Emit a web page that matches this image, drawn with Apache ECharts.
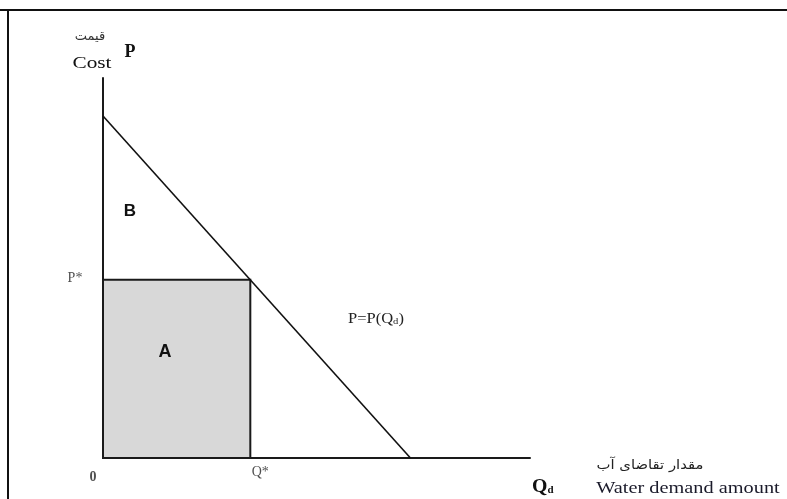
<!DOCTYPE html>
<html>
<head>
<meta charset="utf-8">
<script src="https://cdn.jsdelivr.net/npm/echarts@6/dist/echarts.min.js"></script>
<style>
  html, body { margin: 0; padding: 0; background: #fff; }
  #chart { width: 787px; height: 499px; }
</style>
</head>
<body>
<div id="chart"></div>
<script>
// demand curve end points (quantity, price)
const demandQ = [0, 72]
const demandP = [90, 0]
// equilibrium point Q*, P*
const equilibrium = [34.5, 46.9]
// axis point labels
const pointNames = ['0', 'Q*', 'P*']
const axisMax = [100, 100]

const chart = echarts.init(document.getElementById('chart'))
const serif = '"Liberation Serif", "DejaVu Serif", serif'
const sans = '"Liberation Sans", Arial, sans-serif'
const arabic = '"DejaVu Sans", "Noto Sans", sans-serif'

const labelPoints = [
  { value: [0, 0], label: { formatter: pointNames[0], offset: [-10, 19], fontWeight: 'bold', fontSize: 14 } },
  { value: [equilibrium[0], 0], label: { formatter: pointNames[1], offset: [10, 14] } },
  { value: [0, equilibrium[1]], label: { formatter: pointNames[2], offset: [-28, -1] } }
]

const options = {
  animation: false,
  grid: { left: 103, top: 78, width: 427, height: 380 },
  xAxis: {
    type: 'value',
    min: 0,
    max: axisMax[0],
    axisLine: { lineStyle: { color: '#1a1a1a', width: 2 } },
    axisTick: { show: false },
    axisLabel: { show: false },
    splitLine: { show: false }
  },
  yAxis: {
    type: 'value',
    min: 0,
    max: axisMax[1],
    axisLine: { show: true, lineStyle: { color: '#1a1a1a', width: 2 } },
    axisTick: { show: false },
    axisLabel: { show: false },
    splitLine: { show: false }
  },
  series: [
    {
      name: 'demand',
      type: 'line',
      symbol: 'none',
      lineStyle: { color: '#111', width: 1.6 },
      data: demandQ.map((q, i) => [q, demandP[i]]),
      markArea: {
        silent: true,
        itemStyle: { color: '#d8d8d8', borderColor: '#1a1a1a', borderWidth: 2 },
        data: [[{ coord: [0, 0] }, { coord: equilibrium }]]
      },
      z: 3
    },
    {
      name: 'labels',
      type: 'scatter',
      symbolSize: 0,
      label: {
        show: true,
        position: 'inside',
        color: '#222',
        fontFamily: serif,
        fontSize: 14
      },
      data: labelPoints
    }
  ],
  graphic: [
    // frame
    { type: 'line', shape: { x1: 0, y1: 10, x2: 787, y2: 10 }, style: { stroke: '#111', lineWidth: 2 } },
    { type: 'line', shape: { x1: 8, y1: 10, x2: 8, y2: 499 }, style: { stroke: '#111', lineWidth: 2 } },
    // region labels
    { type: 'text', z: 100, x: 130, y: 211, style: { text: 'B', fontSize: 17, fontWeight: 'bold', fontFamily: sans, fill: '#111', align: 'center', verticalAlign: 'middle' } },
    { type: 'text', z: 100, x: 165, y: 352, style: { text: 'A', fontSize: 18, fontWeight: 'bold', fontFamily: sans, fill: '#111', align: 'center', verticalAlign: 'middle' } },
    {
      type: 'text', z: 100, x: 348, y: 319, scaleX: 1.18,
      style: {
        text: '{a|P=P(Q}{s|d}{a|)}',
        verticalAlign: 'middle',
        rich: {
          a: { fontFamily: serif, fontSize: 14, fill: '#222' },
          s: { fontFamily: serif, fontSize: 9, fill: '#222', padding: [6, 0, 0, 0] }
        }
      }
    },
    // y axis title
    { type: 'text', x: 90, y: 37, style: { text: 'قیمت', fontFamily: arabic, fontSize: 13, fill: '#333', align: 'center', verticalAlign: 'middle' } },
    { type: 'text', x: 92, y: 64, scaleX: 1.25, style: { text: 'Cost', fontFamily: serif, fontSize: 17, fill: '#111', align: 'center', verticalAlign: 'middle' } },
    { type: 'text', x: 130, y: 52, style: { text: 'P', fontFamily: serif, fontSize: 18, fontWeight: 'bold', fill: '#111', align: 'center', verticalAlign: 'middle' } },
    // x axis title
    {
      type: 'text', x: 532, y: 487, scaleX: 1.1,
      style: {
        text: '{a|Q}{s|d}',
        verticalAlign: 'middle',
        rich: {
          a: { fontFamily: serif, fontSize: 18, fontWeight: 'bold', fill: '#111' },
          s: { fontFamily: serif, fontSize: 10, fontWeight: 'bold', fill: '#111', padding: [7, 0, 0, 0] }
        }
      }
    },
    { type: 'text', x: 650, y: 466, scaleX: 1.14, style: { text: 'مقدار تقاضای آب', fontFamily: arabic, fontSize: 13, fill: '#222', align: 'center', verticalAlign: 'middle' } },
    { type: 'text', x: 688, y: 489, scaleX: 1.27, style: { text: 'Water demand amount', fontFamily: serif, fontSize: 16, fill: '#1a1a2a', align: 'center', verticalAlign: 'middle' } }
  ]
}
chart.setOption(options)
</script>
</body>
</html>
